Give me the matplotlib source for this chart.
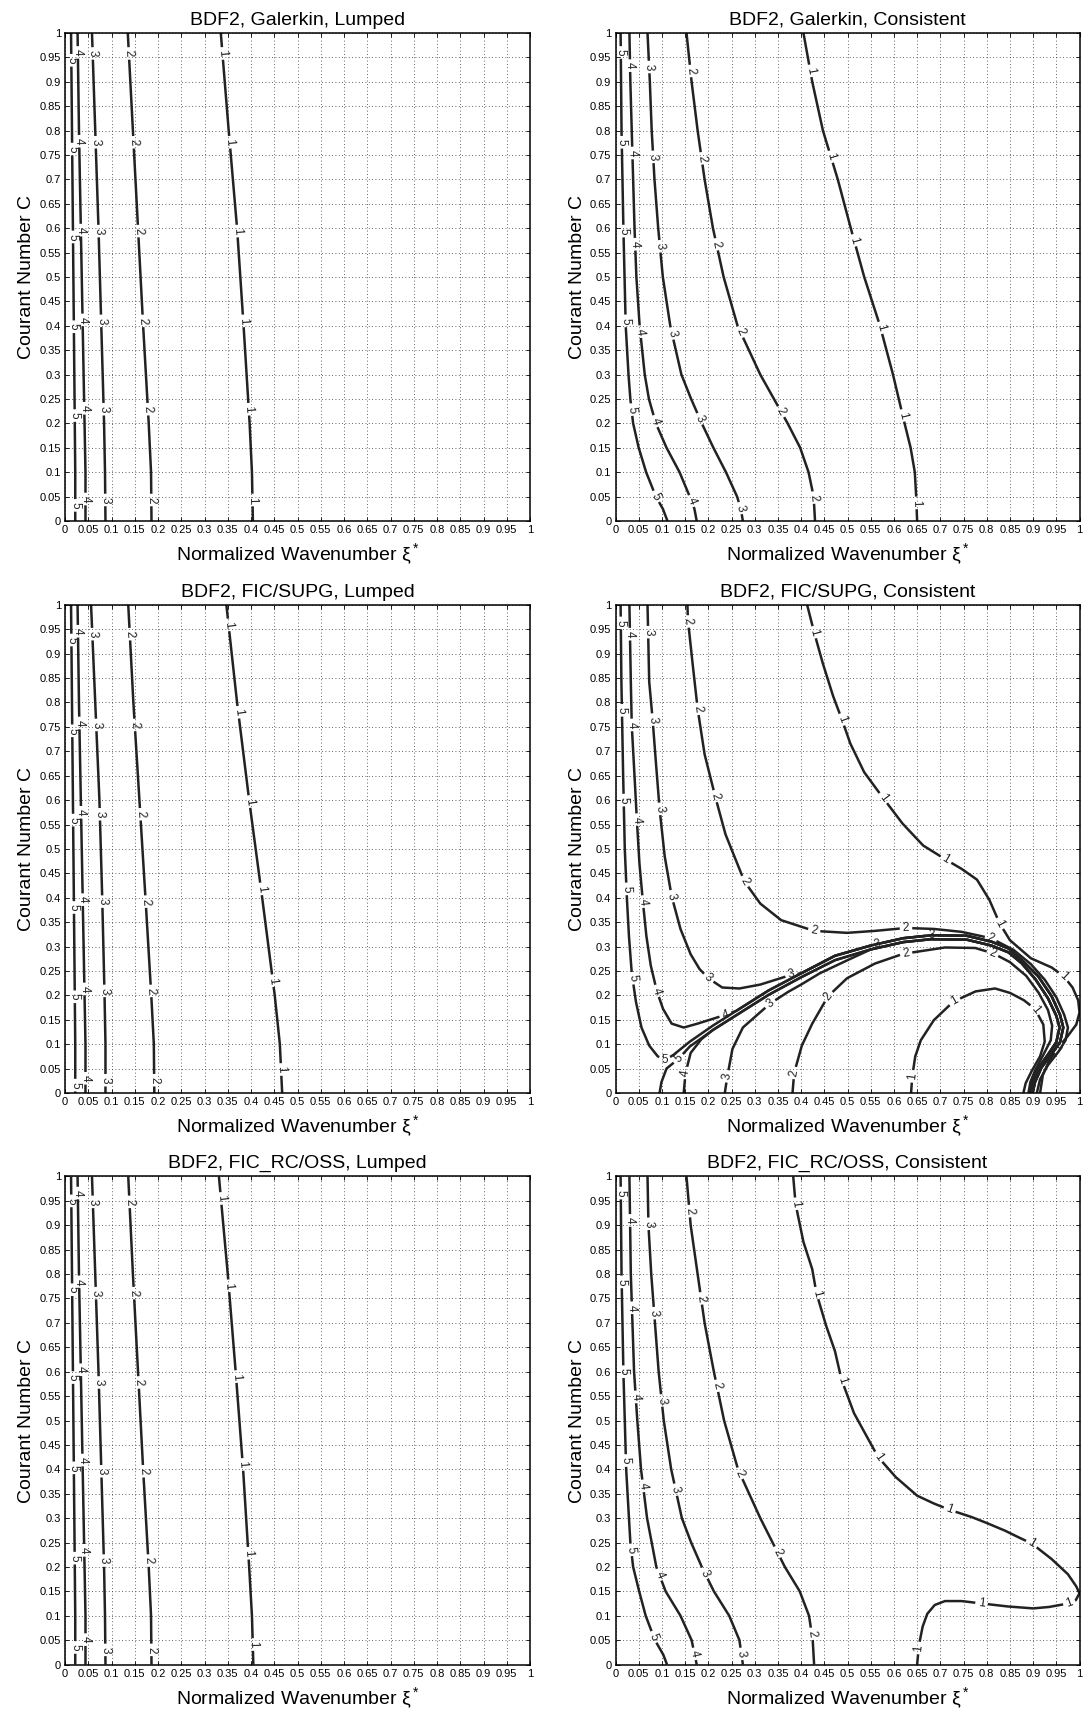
import numpy as np
import matplotlib
matplotlib.use("Agg")
import matplotlib.pyplot as plt
from matplotlib.contour import ContourSet

plt.rcParams["font.family"] = ["Liberation Sans", "DejaVu Sans"]
plt.rcParams["mathtext.fontset"] = "custom"
plt.rcParams["mathtext.rm"] = "Liberation Sans"
plt.rcParams["mathtext.it"] = "Liberation Sans:italic"

levels = [1, 2, 3, 4, 5]
tick_labels = ["0", "0.05", "0.1", "0.15", "0.2", "0.25", "0.3", "0.35", "0.4", "0.45", "0.5",
               "0.55", "0.6", "0.65", "0.7", "0.75", "0.8", "0.85", "0.9", "0.95", "1"]

# ---- lumped mass panels: xi* of contours 1..5 at these Courant numbers
lump_c = [1.0, 0.8, 0.6, 0.4, 0.2, 0.1, 0.0]

gal_lump = [
    [0.335, 0.352, 0.370, 0.384, 0.397, 0.402, 0.404],
    [0.135, 0.146, 0.157, 0.168, 0.180, 0.185, 0.186],
    [0.058, 0.065, 0.072, 0.078, 0.084, 0.086, 0.087],
    [0.027, 0.030, 0.034, 0.038, 0.042, 0.044, 0.044],
    [0.013, 0.015, 0.017, 0.019, 0.021, 0.022, 0.022],
]
gal_lump_lab = [
    [0.958, 0.776, 0.594, 0.41, 0.229, 0.043],
    [0.958, 0.776, 0.594, 0.41, 0.229, 0.043],
    [0.958, 0.776, 0.594, 0.41, 0.229, 0.043],
    [0.960, 0.778, 0.596, 0.412, 0.231, 0.045],
    [0.944, 0.762, 0.582, 0.398, 0.216, 0.032],
]

supg_lump = [
    [0.347, 0.370, 0.396, 0.424, 0.451, 0.462, 0.467],
    [0.136, 0.147, 0.160, 0.173, 0.1855, 0.191, 0.192],
    [0.056, 0.065, 0.074, 0.080, 0.085, 0.087, 0.087],
    [0.027, 0.030, 0.034, 0.038, 0.042, 0.044, 0.044],
    [0.013, 0.015, 0.017, 0.019, 0.021, 0.022, 0.022],
]
supg_lump_lab = [
    [0.959, 0.78, 0.597, 0.418, 0.23, 0.048],
    [0.94, 0.754, 0.571, 0.392, 0.209, 0.026],
    [0.94, 0.754, 0.571, 0.392, 0.209, 0.026],
    [0.946, 0.758, 0.575, 0.396, 0.213, 0.03],
    [0.928, 0.742, 0.559, 0.38, 0.197, 0.016],
]

oss_lump = [
    [0.331, 0.350, 0.367, 0.383, 0.396, 0.402, 0.405],
    [0.136, 0.146, 0.157, 0.168, 0.180, 0.185, 0.186],
    [0.058, 0.065, 0.072, 0.078, 0.084, 0.086, 0.087],
    [0.027, 0.030, 0.034, 0.038, 0.042, 0.044, 0.044],
    [0.013, 0.015, 0.017, 0.019, 0.021, 0.022, 0.022],
]
oss_lump_lab = [
    [0.955, 0.776, 0.59, 0.41, 0.228, 0.041],
    [0.948, 0.761, 0.578, 0.396, 0.213, 0.03],
    [0.948, 0.761, 0.578, 0.396, 0.213, 0.03],
    [0.966, 0.784, 0.604, 0.419, 0.234, 0.051],
    [0.950, 0.768, 0.588, 0.403, 0.218, 0.035],
]

# ---- Galerkin, consistent: (xi*, C) along each contour
gc_1 = [(0.405, 1.0), (0.424, 0.9), (0.447, 0.8), (0.479, 0.7), (0.507, 0.6), (0.536, 0.5),
        (0.570, 0.4), (0.598, 0.3), (0.623, 0.2), (0.636, 0.15), (0.645, 0.1), (0.648, 0.05), (0.650, 0.0)]
gc_2 = [(0.153, 1.0), (0.164, 0.9), (0.177, 0.8), (0.192, 0.7), (0.210, 0.6), (0.233, 0.5),
        (0.263, 0.4), (0.312, 0.3), (0.371, 0.2), (0.398, 0.15), (0.416, 0.1), (0.427, 0.05), (0.430, 0.0)]
gc_3 = [(0.069, 1.0), (0.074, 0.9), (0.078, 0.8), (0.084, 0.7), (0.092, 0.6), (0.102, 0.5),
        (0.118, 0.4), (0.142, 0.3), (0.163, 0.25), (0.186, 0.2), (0.211, 0.15), (0.238, 0.1),
        (0.262, 0.05), (0.270, 0.025), (0.2745, 0.0)]
gc_4 = [(0.030, 1.0), (0.032, 0.9), (0.035, 0.8), (0.038, 0.7), (0.041, 0.6), (0.045, 0.5),
        (0.052, 0.4), (0.063, 0.3), (0.072, 0.25), (0.087, 0.2), (0.110, 0.15), (0.138, 0.1),
        (0.160, 0.05), (0.170, 0.025), (0.175, 0.0)]
gc_5 = [(0.011, 1.0), (0.013, 0.8), (0.017, 0.6), (0.022, 0.4), (0.028, 0.3), (0.032, 0.25),
        (0.038, 0.2), (0.050, 0.15), (0.066, 0.1), (0.087, 0.05), (0.102, 0.025), (0.112, 0.0)]
gc_lab = [(0.418, 0.922), (0.463, 0.746), (0.514, 0.575), (0.572, 0.396), (0.618, 0.216), (0.648, 0.037),
          (0.162, 0.922), (0.185, 0.743), (0.218, 0.567), (0.271, 0.388), (0.357, 0.224), (0.428, 0.048),
          (0.069, 0.93), (0.080, 0.746), (0.097, 0.563), (0.121, 0.384), (0.181, 0.209), (0.268, 0.026),
          (0.031, 0.933), (0.035, 0.754), (0.041, 0.567), (0.054, 0.388), (0.088, 0.205), (0.164, 0.041),
          (0.011, 0.96), (0.013, 0.776), (0.017, 0.594), (0.022, 0.41), (0.033, 0.228), (0.087, 0.05)]

# ---- FIC/SUPG, consistent
fs_1_hi = [(0.413, 1.0), (0.428, 0.944), (0.4465, 0.881), (0.469, 0.813), (0.488, 0.765), (0.506, 0.716),
           (0.536, 0.657), (0.577, 0.604), (0.6185, 0.552), (0.663, 0.507), (0.712, 0.478), (0.746, 0.459),
           (0.779, 0.437), (0.8055, 0.396), (0.828, 0.347), (0.850, 0.313), (0.895, 0.276), (0.940, 0.257),
           (0.966, 0.239), (0.985, 0.216), (0.997, 0.19), (1.0, 0.165), (0.993, 0.14), (0.975, 0.117),
           (0.954, 0.093), (0.935, 0.067), (0.921, 0.037), (0.915, 0.0)]
fs_1_lo = [(0.637, 0.0), (0.6395, 0.034), (0.646, 0.075), (0.658, 0.108), (0.686, 0.149), (0.728, 0.187),
           (0.776, 0.208), (0.818, 0.214), (0.850, 0.205), (0.880, 0.19), (0.904, 0.172), (0.922, 0.14),
           (0.925, 0.105), (0.915, 0.075), (0.897, 0.045), (0.884, 0.02), (0.879, 0.0)]
fs_2_hi = [(0.155, 1.0), (0.156, 0.97), (0.166, 0.881), (0.177, 0.787), (0.192, 0.694), (0.2147, 0.608),
           (0.237, 0.53), (0.278, 0.433), (0.312, 0.388), (0.357, 0.354), (0.428, 0.332), (0.499, 0.328),
           (0.559, 0.332), (0.626, 0.338), (0.686, 0.336), (0.746, 0.33), (0.809, 0.317), (0.858, 0.293),
           (0.895, 0.264), (0.925, 0.232), (0.95, 0.196), (0.967, 0.16), (0.975, 0.134), (0.97, 0.108),
           (0.955, 0.085), (0.932, 0.057), (0.915, 0.028), (0.908, 0.0)]
fs_2_lo = [(0.3815, 0.0), (0.385, 0.041), (0.4016, 0.097), (0.424, 0.142), (0.458, 0.198), (0.499, 0.235),
           (0.559, 0.265), (0.620, 0.285), (0.71, 0.298), (0.775, 0.297), (0.814, 0.286), (0.85, 0.268),
           (0.885, 0.24), (0.912, 0.205), (0.932, 0.17), (0.941, 0.138), (0.938, 0.108), (0.922, 0.078),
           (0.905, 0.048), (0.894, 0.022), (0.890, 0.0)]
fs_3_hi = [(0.069, 1.0), (0.0726, 0.843), (0.080, 0.765), (0.0875, 0.672), (0.095, 0.582), (0.106, 0.485),
           (0.121, 0.403), (0.140, 0.336), (0.162, 0.284), (0.181, 0.254), (0.200, 0.235), (0.230, 0.216),
           (0.267, 0.214), (0.312, 0.222), (0.379, 0.242)]
fs_3_lo = [(0.2356, 0.0), (0.241, 0.034), (0.252, 0.09), (0.2745, 0.134), (0.333, 0.183), (0.372, 0.207),
           (0.40, 0.222), (0.44, 0.245), (0.50, 0.272)]
fs_4_hi = [(0.030, 1.0), (0.033, 0.843), (0.035, 0.754), (0.041, 0.649), (0.046, 0.56), (0.0516, 0.47),
           (0.059, 0.392), (0.0666, 0.321), (0.076, 0.261), (0.089, 0.209), (0.1025, 0.172), (0.121, 0.142),
           (0.147, 0.134), (0.177, 0.142), (0.237, 0.160)]
fs_4_lo = [(0.147, 0.0), (0.151, 0.041), (0.162, 0.082), (0.185, 0.11)]
fs_5_hi = [(0.011, 1.0), (0.0127, 0.843), (0.0165, 0.649), (0.020, 0.5), (0.0247, 0.396), (0.029, 0.321),
           (0.035, 0.246), (0.044, 0.187), (0.056, 0.134), (0.0726, 0.097), (0.091, 0.075), (0.106, 0.067),
           (0.125, 0.078)]
fs_5_lo = [(0.095, 0.0), (0.099, 0.022), (0.11, 0.05), (0.136, 0.07)]
# the two sides of the ridge where contours 3-5 bunch together
ridge_hi = [(0.16, 0.105), (0.21, 0.138), (0.26, 0.168), (0.33, 0.21), (0.40, 0.245), (0.473, 0.281),
            (0.55, 0.302), (0.62, 0.317), (0.68, 0.323), (0.757, 0.322), (0.81, 0.31), (0.847, 0.296),
            (0.875, 0.273), (0.911, 0.239), (0.94, 0.198), (0.958, 0.16), (0.965, 0.134), (0.958, 0.104),
            (0.94, 0.08), (0.918, 0.052), (0.904, 0.022), (0.899, 0.0)]
ridge_lo = [(0.16, 0.095), (0.21, 0.129), (0.26, 0.159), (0.33, 0.201), (0.40, 0.237), (0.473, 0.272),
            (0.55, 0.294), (0.62, 0.309), (0.68, 0.315), (0.757, 0.314), (0.81, 0.302), (0.847, 0.288),
            (0.875, 0.266), (0.905, 0.233), (0.932, 0.194), (0.950, 0.158), (0.957, 0.134), (0.950, 0.104),
            (0.933, 0.08), (0.912, 0.052), (0.898, 0.022), (0.893, 0.0)]
fs_lab = [(0.009, 0.963), (0.014, 0.784), (0.0187, 0.60), (0.0217, 0.418), (0.0367, 0.235), (0.106, 0.067),
          (0.136, 0.07), (0.03, 0.94), (0.035, 0.754), (0.0486, 0.56), (0.059, 0.392), (0.089, 0.209),
          (0.237, 0.16), (0.151, 0.041), (0.067, 0.944), (0.08, 0.765), (0.095, 0.582), (0.121, 0.403),
          (0.2, 0.235), (0.379, 0.242), (0.5625, 0.306), (0.682, 0.321), (0.241, 0.034), (0.333, 0.183),
          (0.156, 0.966), (0.177, 0.787), (0.2147, 0.608), (0.278, 0.433), (0.428, 0.332), (0.626, 0.338),
          (0.809, 0.317), (0.385, 0.041), (0.458, 0.198), (0.626, 0.287), (0.813, 0.287),
          (0.428, 0.944), (0.488, 0.765), (0.577, 0.604), (0.712, 0.478), (0.828, 0.347), (0.966, 0.239),
          (0.954, 0.093), (0.6395, 0.034), (0.731, 0.187), (0.906, 0.172)]

# ---- FIC_RC/OSS, consistent
rc_1 = [(0.383, 1.0), (0.388, 0.944), (0.405, 0.866), (0.424, 0.81), (0.433, 0.761), (0.454, 0.694),
        (0.473, 0.642), (0.487, 0.584), (0.514, 0.515), (0.544, 0.463), (0.566, 0.425), (0.604, 0.384),
        (0.650, 0.346), (0.686, 0.330), (0.720, 0.317), (0.768, 0.302), (0.800, 0.290), (0.840, 0.274),
        (0.870, 0.260), (0.897, 0.248), (0.940, 0.216), (0.975, 0.185), (0.993, 0.160), (1.0, 0.146),
        (0.992, 0.132), (0.975, 0.125), (0.935, 0.118), (0.900, 0.115), (0.845, 0.119), (0.790, 0.125),
        (0.746, 0.130), (0.710, 0.130), (0.688, 0.122), (0.672, 0.104), (0.662, 0.078), (0.654, 0.040),
        (0.650, 0.0)]
rc_2 = [(0.153, 1.0), (0.162, 0.9), (0.177, 0.8), (0.192, 0.7), (0.212, 0.6), (0.234, 0.5), (0.264, 0.4),
        (0.312, 0.3), (0.365, 0.2), (0.397, 0.15), (0.417, 0.1), (0.425, 0.05), (0.428, 0.0)]
rc_3 = [(0.069, 1.0), (0.071, 0.9), (0.077, 0.8), (0.085, 0.7), (0.093, 0.6), (0.104, 0.5), (0.120, 0.4),
        (0.143, 0.3), (0.163, 0.25), (0.186, 0.2), (0.212, 0.15), (0.245, 0.1), (0.267, 0.05), (0.2745, 0.0)]
rc_4 = [(0.030, 1.0), (0.033, 0.8), (0.040, 0.6), (0.047, 0.5), (0.055, 0.4), (0.068, 0.3), (0.078, 0.25),
        (0.088, 0.2), (0.108, 0.15), (0.140, 0.1), (0.164, 0.05), (0.175, 0.0)]
rc_5 = [(0.011, 1.0), (0.013, 0.8), (0.017, 0.6), (0.023, 0.4), (0.032, 0.25), (0.038, 0.2), (0.051, 0.15),
        (0.065, 0.1), (0.085, 0.05), (0.103, 0.02), (0.111, 0.0)]
rc_lab = [(0.388, 0.944), (0.433, 0.761), (0.4854, 0.582), (0.566, 0.425), (0.72, 0.317), (0.897, 0.248),
          (0.977, 0.128), (0.789, 0.126), (0.652, 0.034),
          (0.1586, 0.929), (0.183, 0.75), (0.218, 0.571), (0.2685, 0.392), (0.344, 0.228), (0.424, 0.063),
          (0.069, 0.903), (0.084, 0.72), (0.099, 0.541), (0.1286, 0.358), (0.192, 0.187), (0.273, 0.022),
          (0.03, 0.91), (0.035, 0.731), (0.0464, 0.5485), (0.059, 0.366), (0.091, 0.183), (0.171, 0.022),
          (0.009, 0.966), (0.0127, 0.784), (0.017, 0.60), (0.0217, 0.418), (0.0337, 0.235), (0.0815, 0.056)]

titles = ["BDF2, Galerkin, Lumped", "BDF2, Galerkin, Consistent",
          "BDF2, FIC/SUPG, Lumped", "BDF2, FIC/SUPG, Consistent",
          "BDF2, FIC_RC/OSS, Lumped", "BDF2, FIC_RC/OSS, Consistent"]

line_color = "#222222"


def lumped(xis, labs):
    segs = [[np.column_stack([xi, lump_c])] for xi in xis]
    pts = []
    for xi, cl in zip(xis, labs):
        for c in cl:
            pts.append((np.interp(c, lump_c[::-1], xi[::-1]), c))
    return segs, pts


def joined(branch, ridge):
    # branch continues along the ridge past its last point
    k = next(i for i, p in enumerate(ridge) if p[0] > branch[-1][0])
    return np.array(branch + ridge[k:])


panels = [
    lumped(gal_lump, gal_lump_lab),
    ([[np.array(gc_1)], [np.array(gc_2)], [np.array(gc_3)], [np.array(gc_4)], [np.array(gc_5)]], gc_lab),
    lumped(supg_lump, supg_lump_lab),
    ([[np.array(fs_1_hi), np.array(fs_1_lo)],
      [np.array(fs_2_hi), np.array(fs_2_lo)],
      [joined(fs_3_hi, ridge_hi), joined(fs_3_lo, ridge_lo)],
      [joined(fs_4_hi, ridge_hi), joined(fs_4_lo, ridge_lo)],
      [joined(fs_5_hi, ridge_hi), joined(fs_5_lo, ridge_lo)]], fs_lab),
    lumped(oss_lump, oss_lump_lab),
    ([[np.array(rc_1)], [np.array(rc_2)], [np.array(rc_3)], [np.array(rc_4)], [np.array(rc_5)]], rc_lab),
]

fig = plt.figure(figsize=(10.89, 17.16), dpi=100)
col_left = [0.0597, 0.5652]
col_w = [0.427, 0.4261]
row_bottom = [0.6964, 0.3631, 0.0300]
row_h = 0.2844
ticks = [float(t) for t in tick_labels]

for i, (segs, lab_pts) in enumerate(panels):
    r, c = divmod(i, 2)
    ax = fig.add_axes([col_left[c], row_bottom[r], col_w[c], row_h])
    ax.set_xlim(0, 1)
    ax.set_ylim(0, 1)
    ax.set_xticks(ticks)
    ax.set_xticklabels(tick_labels)
    ax.set_yticks(ticks)
    ax.set_yticklabels(tick_labels)
    ax.tick_params(direction="in", length=3, width=0.6, top=True, right=True, labelsize=8, pad=3)
    ax.grid(True, linestyle=(0, (1, 3)), linewidth=0.6, color="0.2")
    for s in ax.spines.values():
        s.set_linewidth(1.1)
    cs = ContourSet(ax, levels, segs, colors=line_color, linewidths=1.8)
    ax.clabel(cs, manual=lab_pts, inline=True, inline_spacing=3, fmt="%d", fontsize=8.5)
    ax.set_title(titles[i], fontsize=14, pad=6)
    ax.set_xlabel("Normalized Wavenumber ξ$^*$", fontsize=14, labelpad=5)
    ax.set_ylabel("Courant Number C", fontsize=14, labelpad=3)

fig.savefig("out.png", dpi=100)
